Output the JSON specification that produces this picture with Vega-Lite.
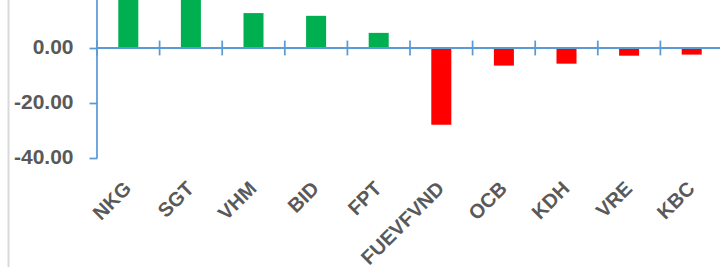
{
  "$schema": "https://vega.github.io/schema/vega-lite/v6.json",
  "width": 626,
  "height": 274,
  "autosize": {"type": "none"},
  "padding": {"top": -7, "left": 97, "right": -3, "bottom": 0},
  "background": "white",
  "config": {"view": {"stroke": null}},
  "data": {"values": [
    {"code": "NKG", "value": 19.0},
    {"code": "SGT", "value": 18.5},
    {"code": "VHM", "value": 12.7},
    {"code": "BID", "value": 11.7},
    {"code": "FPT", "value": 5.5},
    {"code": "FUEVFVND", "value": -27.9},
    {"code": "OCB", "value": -6.4},
    {"code": "KDH", "value": -5.7},
    {"code": "VRE", "value": -2.8},
    {"code": "KBC", "value": -2.4}
  ]},
  "resolve": {"scale": {"y": "shared"}, "axis": {"y": "independent"}},
  "layer": [
    {
      "mark": {"type": "bar", "width": {"band": 0.32}},
      "encoding": {
        "x": {
          "field": "code", "type": "nominal", "sort": null,
          "scale": {"domain": ["NKG", "SGT", "VHM", "BID", "FPT", "FUEVFVND", "OCB", "KDH", "VRE", "KBC"], "paddingInner": 0, "paddingOuter": 0},
          "axis": {
            "orient": "bottom", "offset": -109, "domain": false, "ticks": false,
            "labelAngle": -45, "labelAlign": "right", "labelBaseline": "middle",
            "labelPadding": 27, "labelFont": "Liberation Sans", "labelFontWeight": "bold",
            "labelFontSize": 20, "labelColor": "#595959", "title": null,
            "labelOverlap": false, "grid": false
          }
        },
        "y": {
          "field": "value", "type": "quantitative",
          "scale": {"domain": [-79.64, 20], "nice": false, "zero": false},
          "axis": {
            "values": [20, 0, -20, -40],
            "labelExpr": "datum.value < 0 ? '-' + format(-datum.value, '.2f') : format(datum.value, '.2f')",
            "domain": false, "tickColor": "#5B9BD5", "tickWidth": 1.75, "tickSize": 8,
            "labelPadding": 16, "labelFont": "Liberation Sans", "labelFontWeight": "bold",
            "labelFontSize": 21, "labelColor": "#595959", "grid": false, "title": null,
            "labelOverlap": false, "labelFlush": false
          }
        },
        "color": {"condition": {"test": "datum.value > 0", "value": "#00B050"}, "value": "#FF0000"}
      }
    },
    {
      "mark": {"type": "rule", "color": "#5B9BD5", "strokeWidth": 1.75},
      "encoding": {"y": {"datum": 0, "type": "quantitative", "axis": null}}
    },
    {
      "mark": {"type": "rule", "color": "#5B9BD5", "strokeWidth": 1.75},
      "encoding": {
        "x": {"field": "code", "type": "nominal", "bandPosition": 0},
        "y": {"datum": -2.7, "type": "quantitative", "axis": null},
        "y2": {"datum": 2.7}
      }
    },
    {
      "data": {"values": [{"code": "NKG"}]},
      "mark": {"type": "rule", "color": "#5B9BD5", "strokeWidth": 1.75},
      "encoding": {
        "x": {"field": "code", "type": "nominal", "bandPosition": 0},
        "y": {
          "datum": -40, "type": "quantitative",
          "axis": {"orient": "left", "offset": 89, "domainColor": "#D9D9D9", "domainWidth": 2, "ticks": false, "labels": false, "grid": false, "title": null}
        },
        "y2": {"datum": 20}
      }
    }
  ]
}
